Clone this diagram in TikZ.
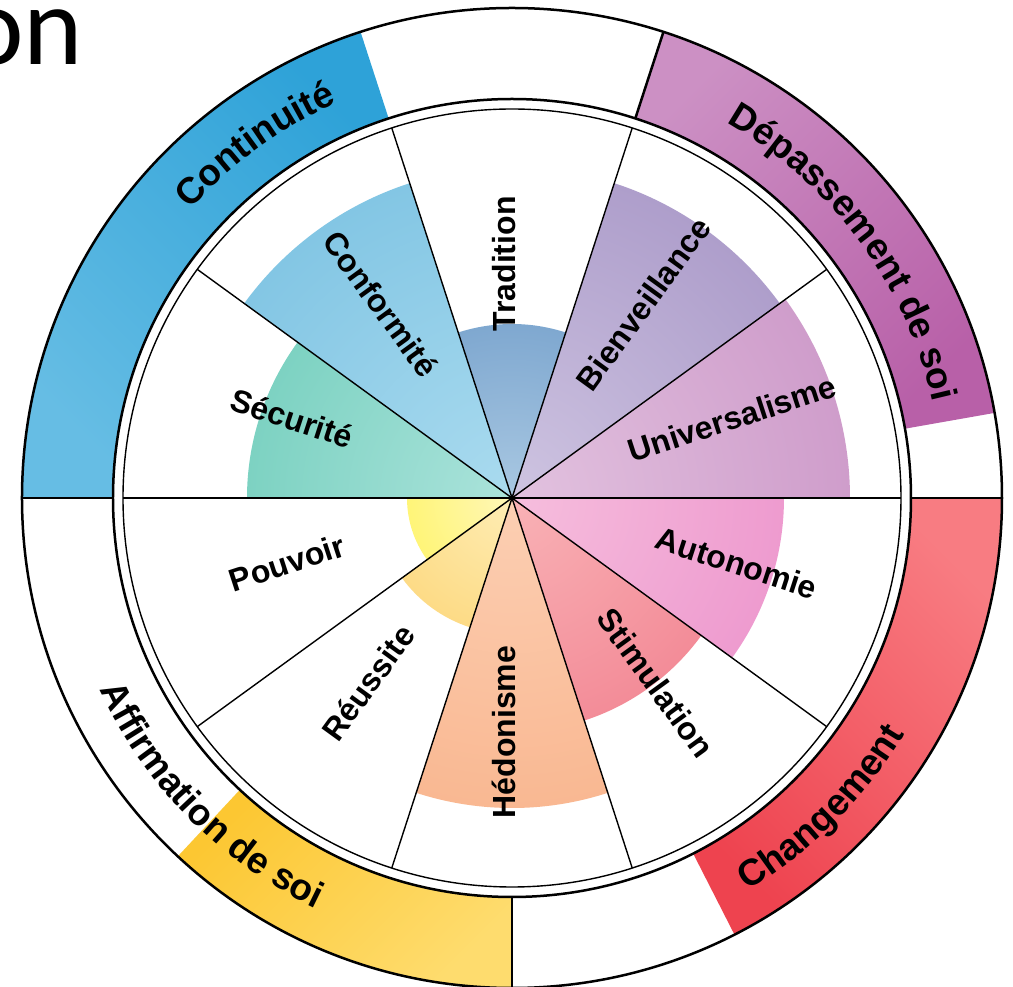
\documentclass[tikz,border=0pt]{standalone}
\usepackage{fontspec}
\setmainfont{Liberation Sans}
\newfontfamily\onfont{Carlito}
\usetikzlibrary{decorations.text}
\newcommand\rgfont{\fontsize{37pt}{37pt}\selectfont\bfseries}
\newcommand\wlfont{\fontsize{32pt}{32pt}\selectfont\bfseries}
% wedge colours (inner / outer)
\definecolor{uniI}{HTML}{E2C2DF}\definecolor{uniO}{HTML}{CF9DCB}
\definecolor{bieI}{HTML}{CEC4E1}\definecolor{bieO}{HTML}{AE9ECB}
\definecolor{traI}{HTML}{A9C8E2}\definecolor{traO}{HTML}{7FA8D0}
\definecolor{conI}{HTML}{AADBEF}\definecolor{conO}{HTML}{83C6E4}
\definecolor{secI}{HTML}{ABE3DB}\definecolor{secO}{HTML}{7DD2C2}
\definecolor{pouI}{HTML}{FFF7B8}\definecolor{pouO}{HTML}{FFF578}
\definecolor{reuI}{HTML}{FEEDB4}\definecolor{reuO}{HTML}{FDDB86}
\definecolor{hedI}{HTML}{FCCFB3}\definecolor{hedO}{HTML}{F9B892}
\definecolor{stiI}{HTML}{F9B2B6}\definecolor{stiO}{HTML}{F38C98}
\definecolor{autI}{HTML}{F6BEDD}\definecolor{autO}{HTML}{EE9BCF}
% ring colours
\definecolor{contA}{HTML}{2EA2D8}\definecolor{contB}{HTML}{66BDE4}
\definecolor{depA}{HTML}{CC90C4}\definecolor{depB}{HTML}{B860A8}
\definecolor{chgA}{HTML}{F87C82}\definecolor{chgB}{HTML}{EE434F}
\definecolor{affA}{HTML}{FCC732}\definecolor{affB}{HTML}{FEDC6E}
\tikzset{
  radline/.style={line width=1.4pt, draw=black},
  ringline/.style={line width=2.5pt, draw=black},
  wlabel/.style={font=\wlfont, inner sep=0pt, text height=0.72em, text depth=0pt, anchor=center},
  ringtext/.style={decorate, decoration={text along path, text align=center, text={|\rgfont|#1}}}
}
\newcommand\wheelwedge[5]{%
  \begin{scope}
    \clip (0,0) -- (#1:#3) arc[start angle=#1, end angle=#2, radius=#3] -- cycle;
    \shade[inner color=#4, outer color=#5] (0,0) circle[radius=#3];
  \end{scope}}
\newcommand\ringseg[5]{%
  \shade[top color=#3, bottom color=#4, shading angle=#5]
    (#1:399pt) arc[start angle=#1, end angle=#2, radius=399pt]
    -- (#2:490pt) arc[start angle=#2, end angle=#1, radius=490pt] -- cycle;}
\begin{document}
\begin{tikzpicture}
\useasboundingbox[fill=white] (-512pt,-489pt) rectangle (501pt,498pt);
% outer ring segments
\ringseg{108}{180}{contA}{contB}{-45}
\ringseg{10}{72}{depA}{depB}{45}
\ringseg{-63}{0}{chgA}{chgB}{-45}
\ringseg{227}{270}{affA}{affB}{45}
% value wedges
\wheelwedge{0}{36}{338pt}{uniI}{uniO}
\wheelwedge{36}{72}{331pt}{bieI}{bieO}
\wheelwedge{72}{108}{174pt}{traI}{traO}
\wheelwedge{108}{144}{331pt}{conI}{conO}
\wheelwedge{144}{180}{265pt}{secI}{secO}
\wheelwedge{180}{216}{105pt}{pouI}{pouO}
\wheelwedge{216}{252}{136pt}{reuI}{reuO}
\wheelwedge{252}{288}{310pt}{hedI}{hedO}
\wheelwedge{288}{324}{234pt}{stiI}{stiO}
\wheelwedge{324}{360}{272pt}{autI}{autO}
% lines
\foreach \a in {0,36,...,324} \draw[radline] (0,0) -- (\a:389pt);
\draw[radline] (0,0) circle[radius=389pt];
\draw[ringline] (0,0) circle[radius=399pt];
\draw[ringline] (0,0) circle[radius=490pt];
\foreach \a in {0,72,180,270} \draw[ringline] (\a:399pt) -- (\a:490pt);
% wheel labels
\node[wlabel, rotate=18]  (univ) at (18:234pt)  {Universalisme};
\node[wlabel, rotate=54]  (bien) at (54:234pt)  {Bienveillance};
\node[wlabel, rotate=90]  (trad) at (90:234pt)  {Tradition};
\node[wlabel, rotate=-54] (conf) at (126:234pt) {Conformité};
\node[wlabel, rotate=-18] (secu) at (162:234pt) {Sécurité};
\node[wlabel, rotate=18]  (pouv) at (198:234pt) {Pouvoir};
\node[wlabel, rotate=54]  (reus) at (234:234pt) {Réussite};
\node[wlabel, rotate=90]  (hedo) at (270:234pt) {Hédonisme};
\node[wlabel, rotate=-54] (stim) at (306:234pt) {Stimulation};
\node[wlabel, rotate=-18] (auto) at (342:234pt) {Autonomie};
% ring labels
\path[ringtext={Continuit{é}}] (176:432pt) arc[start angle=176, end angle=76, radius=432pt];
\path[ringtext={D{é}passement de soi}] (86.5:432pt) arc[start angle=86.5, end angle=-13.5, radius=432pt];
\path[ringtext={Changement}] (-95:458pt) arc[start angle=-95, end angle=5, radius=458pt];
\path[ringtext={Affirmation de soi}] (174.7:455pt) arc[start angle=174.7, end angle=274.7, radius=455pt];
% clipped title fragment
\node[font=\onfont\fontsize{113pt}{113pt}\selectfont, anchor=base west, inner sep=0pt] (title) at (-548pt,433pt) {on};
\end{tikzpicture}
\end{document}
